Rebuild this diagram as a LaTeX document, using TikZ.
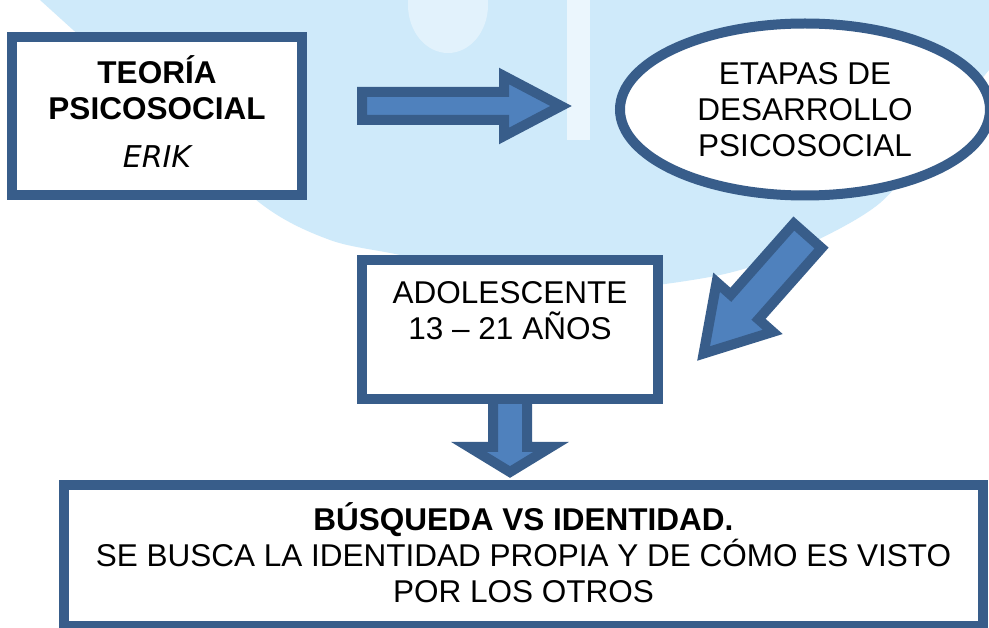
\documentclass[tikz,border=0pt]{standalone}
\usepackage{fontspec}
\setmainfont{Liberation Sans}
\newfontfamily\erikfont{DejaVu Sans}
\usetikzlibrary{shapes.geometric,calc,backgrounds}

\definecolor{rimblue}{RGB}{56,93,138}
\definecolor{fillblue}{RGB}{79,129,189}
\definecolor{washblue}{RGB}{207,234,250}

\newcommand{\bigfont}{\fontsize{31.5}{36}\selectfont}

\tikzset{
  box/.style={draw=rimblue, line width=10pt, fill=white, align=center, inner sep=0pt, font=\bigfont},
  oval/.style={box, ellipse},
  fatarrow/.style={draw=rimblue, fill=fillblue, line width=10pt, line join=miter},
}

% from, to, half shaft, half head, head length
\newcommand{\blockarrow}[5]{%
  \draw[fatarrow] let \p1=($(#2)-(#1)$), \n1={atan2(\y1,\x1)}, \n2={veclen(\x1,\y1)} in
    [shift={(#1)}, rotate=\n1]
    (0,-#3) -- (\n2-#5,-#3) -- (\n2-#5,-#4) -- (\n2,0) -- (\n2-#5,#4) -- (\n2-#5,#3) -- (0,#3) -- cycle;}

\begin{document}
\begin{tikzpicture}[x=1pt,y=-1pt]
  \useasboundingbox (0,0) rectangle (989,628);

  \node[box, minimum width=290, minimum height=158, font=\bigfont\bfseries] (teoria) at (157,116)
    {TEORÍA\\PSICOSOCIAL\\[12pt]{\normalfont\erikfont\itshape\fontsize{30}{36}\selectfont ERIK}\rule[-8pt]{0pt}{8pt}};
  \node[oval, minimum width=370, minimum height=172] (etapas) at (805,109.5)
    {ETAPAS DE\\DESARROLLO\\PSICOSOCIAL};
  \node[box, minimum width=296, minimum height=139] (adol) at (510,329.5)
    {ADOLESCENTE\\13 – 21 AÑOS\rule[-38pt]{0pt}{38pt}};
  \node[box, minimum width=919, minimum height=141] (busqueda) at (523.5,555.5)
    {\textbf{BÚSQUEDA VS IDENTIDAD.}\\SE BUSCA LA IDENTIDAD PROPIA Y DE CÓMO ES VISTO\\POR LOS OTROS\rule[-5pt]{0pt}{5pt}};

  \coordinate (ra) at (362,106);
  \coordinate (rb) at (561,106);
  \coordinate (da) at (807.7,235.8);
  \coordinate (db) at (703.6,353.5);
  \coordinate (dwa) at (510,399);
  \coordinate (dwb) at (510,472);

  \begin{scope}[on background layer]
    \fill[white] (0,0) rectangle (989,628);
    \fill[washblue] plot[smooth] coordinates {(40,0) (150,100) (260,203) (330,240) (400,255)
      (500,278) (600,290) (720,275) (800,248) (880,203) (940,130) (989,70)} -- (989,0) -- cycle;
    \fill[white, opacity=.6] (567,0) rectangle (590,140);
    \fill[white, opacity=.4] (448,5) ellipse [x radius=40, y radius=48];
    \blockarrow{ra}{rb}{14}{30}{57}
    \blockarrow{da}{db}{18.5}{37.5}{62}
    \blockarrow{dwa}{dwb}{17}{41}{25}
  \end{scope}
\end{tikzpicture}
\end{document}
